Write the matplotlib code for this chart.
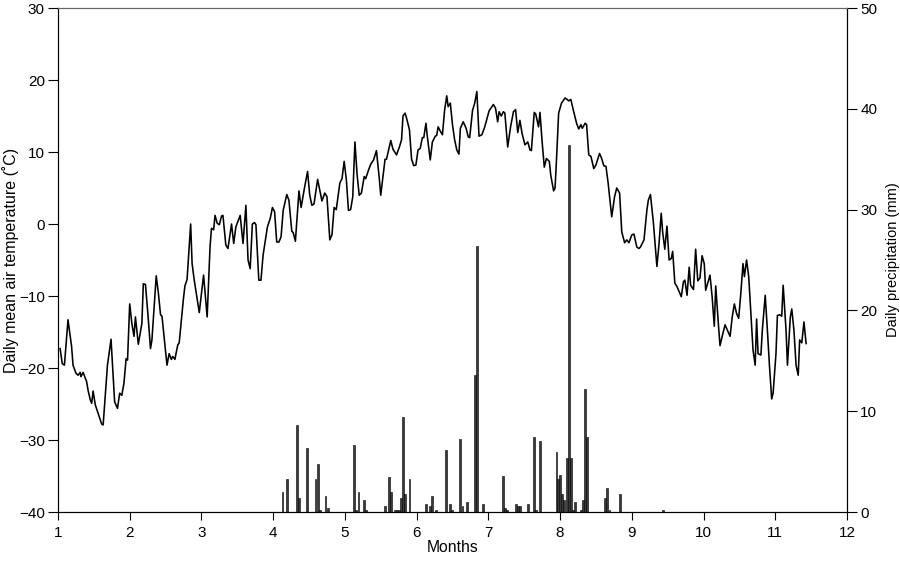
import matplotlib
matplotlib.use('Agg')
import matplotlib.pyplot as plt

plt.rcParams['font.family'] = ['Liberation Sans', 'DejaVu Sans']

# daily mean air temperature, x in fractional months
temp_month = [
    1.03, 1.06, 1.09, 1.14, 1.19, 1.21, 1.25, 1.28, 1.31, 1.32, 1.35, 1.40, 1.42, 1.45, 1.47, 1.49,
    1.52, 1.56, 1.61, 1.63, 1.69, 1.74, 1.79, 1.83, 1.86, 1.89, 1.92, 1.95, 1.97, 2.00, 2.03, 2.06,
    2.08, 2.12, 2.17, 2.19, 2.22, 2.26, 2.29, 2.31, 2.37, 2.40, 2.43, 2.45, 2.52, 2.55, 2.58, 2.60,
    2.63, 2.67, 2.69, 2.75, 2.77, 2.80, 2.85, 2.87, 2.90, 2.97, 3.03, 3.08, 3.12, 3.14, 3.17, 3.19,
    3.22, 3.25, 3.28, 3.30, 3.34, 3.37, 3.42, 3.45, 3.48, 3.54, 3.58, 3.62, 3.65, 3.68, 3.71, 3.74,
    3.76, 3.80, 3.83, 3.86, 3.92, 3.96, 3.99, 4.02, 4.05, 4.08, 4.11, 4.14, 4.19, 4.22, 4.26, 4.28,
    4.31, 4.36, 4.39, 4.44, 4.48, 4.51, 4.54, 4.57, 4.62, 4.68, 4.72, 4.75, 4.79, 4.82, 4.85, 4.88,
    4.93, 4.96, 4.99, 5.02, 5.05, 5.08, 5.11, 5.14, 5.17, 5.20, 5.23, 5.27, 5.29, 5.33, 5.36, 5.40,
    5.44, 5.48, 5.50, 5.56, 5.58, 5.63, 5.64, 5.67, 5.72, 5.76, 5.79, 5.81, 5.84, 5.86, 5.90, 5.93,
    5.96, 5.99, 6.02, 6.05, 6.08, 6.10, 6.13, 6.15, 6.19, 6.22, 6.26, 6.28, 6.30, 6.33, 6.36, 6.39,
    6.42, 6.44, 6.47, 6.50, 6.53, 6.56, 6.59, 6.61, 6.65, 6.69, 6.72, 6.74, 6.78, 6.81, 6.84, 6.87,
    6.91, 6.95, 7.01, 7.07, 7.10, 7.13, 7.15, 7.18, 7.21, 7.23, 7.27, 7.31, 7.35, 7.38, 7.41, 7.44,
    7.47, 7.51, 7.55, 7.58, 7.60, 7.64, 7.66, 7.70, 7.72, 7.75, 7.78, 7.81, 7.85, 7.87, 7.91, 7.93,
    7.95, 7.98, 8.02, 8.07, 8.10, 8.12, 8.15, 8.19, 8.23, 8.26, 8.29, 8.31, 8.35, 8.37, 8.40, 8.43,
    8.47, 8.50, 8.55, 8.58, 8.61, 8.64, 8.67, 8.72, 8.76, 8.79, 8.83, 8.86, 8.90, 8.93, 8.96, 9.00,
    9.03, 9.07, 9.10, 9.12, 9.17, 9.21, 9.23, 9.26, 9.30, 9.35, 9.38, 9.41, 9.43, 9.46, 9.49, 9.52,
    9.55, 9.57, 9.60, 9.63, 9.66, 9.69, 9.72, 9.74, 9.77, 9.80, 9.82, 9.86, 9.89, 9.92, 9.95, 9.98,
    10.01, 10.03, 10.07, 10.09, 10.12, 10.15, 10.17, 10.21, 10.23, 10.26, 10.30, 10.33, 10.37, 10.40, 10.43, 10.46,
    10.49, 10.52, 10.55, 10.57, 10.60, 10.63, 10.66, 10.69, 10.72, 10.74, 10.76, 10.80, 10.82, 10.86, 10.89, 10.92,
    10.95, 10.97, 11.01, 11.03, 11.06, 11.09, 11.11, 11.15, 11.17, 11.21, 11.23, 11.26, 11.29, 11.32, 11.34, 11.37,
    11.40, 11.43,
]
temp_c = [
    -17.3, -19.4, -19.6, -13.3, -17.0, -19.6, -20.7, -21.0, -20.6, -21.2, -20.6, -21.9, -23.1, -24.4, -24.9, -23.2,
    -25.1, -26.3, -27.8, -27.9, -19.6, -16.0, -24.7, -25.6, -23.5, -23.8, -22.1, -18.7, -18.9, -11.1, -13.8, -15.6,
    -12.9, -16.7, -13.8, -8.3, -8.4, -13.3, -17.3, -16.1, -7.2, -9.6, -12.6, -12.8, -19.6, -18.0, -18.8, -18.4,
    -18.8, -16.8, -16.5, -10.3, -8.6, -7.7, 0.0, -5.5, -7.8, -12.3, -7.1, -12.9, -3.2, -0.6, -0.8, 1.2,
    0.1, -0.1, 1.1, 1.2, -2.9, -3.4, 0.0, -2.7, -0.4, 1.2, -2.7, 2.6, -5.0, -6.2, 0.0, 0.2,
    -0.1, -7.8, -7.8, -4.3, -0.4, 0.8, 2.3, 1.7, -2.5, -2.5, -1.8, 1.9, 4.1, 3.3, -1.0, -1.2,
    -2.4, 4.6, 2.3, 5.2, 7.3, 4.0, 2.6, 2.8, 6.2, 3.2, 4.3, 3.8, -2.2, -1.5, 2.3, 2.0,
    5.7, 6.3, 8.7, 6.2, 1.9, 2.0, 3.8, 11.4, 6.9, 4.0, 4.3, 6.6, 6.3, 7.5, 8.3, 8.9,
    10.2, 6.3, 4.0, 9.0, 9.0, 11.2, 11.6, 10.4, 9.6, 10.7, 11.7, 15.0, 15.4, 14.7, 13.1, 9.0,
    8.1, 8.2, 10.3, 10.5, 12.0, 12.0, 14.0, 12.1, 8.9, 11.4, 12.2, 12.3, 13.5, 12.9, 12.4, 15.8,
    17.8, 16.3, 16.8, 13.8, 11.7, 10.3, 9.7, 13.3, 14.2, 13.3, 12.1, 12.0, 15.8, 16.8, 18.4, 12.2,
    12.4, 13.5, 15.7, 16.6, 16.1, 14.2, 15.6, 15.0, 15.6, 15.4, 10.7, 13.5, 15.6, 15.9, 12.7, 14.4,
    12.6, 11.0, 11.4, 10.3, 10.2, 15.5, 15.3, 13.5, 15.5, 11.4, 7.9, 9.1, 8.7, 6.8, 4.6, 5.0,
    8.9, 15.4, 16.8, 17.5, 17.3, 17.1, 17.3, 15.6, 14.0, 13.2, 13.8, 13.3, 14.0, 13.8, 9.6, 9.4,
    7.7, 8.2, 9.8, 9.1, 8.1, 8.0, 5.7, 1.0, 3.8, 5.0, 4.3, -1.1, -2.6, -2.2, -2.6, -1.5,
    -1.4, -3.2, -3.4, -3.2, -2.2, 1.9, 3.3, 4.1, 0.3, -5.9, -2.7, 1.5, -1.1, -3.5, -0.3, -5.0,
    -4.8, -3.8, -8.2, -8.7, -9.4, -10.1, -8.0, -7.8, -9.9, -6.0, -8.5, -9.1, -3.5, -7.9, -7.5, -4.4,
    -5.5, -9.2, -7.8, -7.1, -10.1, -14.2, -8.6, -14.3, -16.9, -15.6, -14.0, -14.7, -15.6, -12.9, -11.1, -12.4,
    -13.1, -9.6, -5.5, -7.3, -5.0, -7.3, -12.4, -17.5, -19.6, -13.2, -18.0, -18.2, -14.7, -9.9, -14.7, -19.8,
    -24.3, -23.5, -18.0, -12.7, -12.6, -12.8, -8.5, -14.7, -19.6, -12.9, -11.8, -14.7, -19.6, -21.0, -16.1, -16.5,
    -13.6, -16.6,
]

# daily precipitation (mm)
rain_month = [
    4.13, 4.19, 4.33, 4.36, 4.47, 4.59, 4.62, 4.65, 4.73, 4.76,
    5.13, 5.16, 5.19, 5.27, 5.30, 5.56, 5.61, 5.64, 5.70, 5.73, 5.75, 5.78, 5.81, 5.84, 5.90,
    6.13, 6.19, 6.21, 6.27, 6.41, 6.47, 6.49, 6.61, 6.64, 6.70, 6.81, 6.84, 6.93,
    7.20, 7.23, 7.26, 7.39, 7.41, 7.44, 7.55, 7.64, 7.66, 7.72, 7.95, 7.97,
    8.00, 8.03, 8.06, 8.10, 8.12, 8.15, 8.18, 8.21, 8.29, 8.32, 8.35, 8.37, 8.63, 8.66, 8.69, 8.83,
    9.43,
]
rain_mm = [
    2.0, 3.3, 8.6, 1.4, 6.4, 3.3, 4.8, 0.2, 1.6, 0.4,
    6.6, 0.2, 2.0, 1.2, 0.2, 0.6, 3.5, 2.0, 0.2, 0.2, 0.2, 1.4, 9.4, 1.8, 3.3,
    0.8, 0.6, 1.6, 0.2, 6.2, 0.8, 0.2, 7.2, 0.6, 1.0, 13.6, 26.4, 0.8,
    3.6, 0.4, 0.2, 0.8, 0.6, 0.6, 0.8, 7.4, 0.2, 7.0, 6.0, 3.3,
    3.7, 1.8, 1.2, 5.4, 36.4, 5.4, 0.2, 1.0, 0.2, 1.2, 12.2, 7.4, 1.4, 2.4, 0.2, 1.8,
    0.2,
]

month_ticks = list(range(1, 13))
temp_ticks = list(range(-40, 31, 10))
rain_ticks = list(range(0, 51, 10))

fig = plt.figure(figsize=(9, 5.61), dpi=100)
ax = fig.add_axes([0.0644, 0.0873, 0.8767, 0.8984])
ax2 = ax.twinx()

ax.plot(temp_month, temp_c, color='black', lw=1.15, zorder=3)
ax2.bar(rain_month, rain_mm, width=0.026, facecolor='#3a3a3a', edgecolor='black', lw=0.4, zorder=2)

ax.set_zorder(ax2.get_zorder() + 1)
ax.patch.set_visible(False)

ax.set_xlim(1, 12)
ax.set_ylim(-40, 30)
ax2.set_ylim(0, 50)
ax.set_xticks(month_ticks)
ax.set_yticks(temp_ticks)
ax2.set_yticks(rain_ticks)
ax.set_yticklabels([str(t).replace('-', '\u2212') for t in temp_ticks])

for a in (ax, ax2):
    a.tick_params(axis='y', direction='out', length=7, width=0.8, labelsize=11, pad=2.5)
    a.tick_params(axis='x', direction='out', length=6, width=0.8, labelsize=11, pad=4)
    for s in a.spines.values():
        s.set_linewidth(0.8)
    a.spines['top'].set_color('#666666')

ax.set_xlabel('Months', fontsize=11.3, labelpad=0)
ax.set_ylabel('Daily mean air temperature (\u02daC)', fontsize=11.5, labelpad=0)
ax2.set_ylabel('Daily precipitation (mm)', fontsize=10.5, labelpad=6)

fig.savefig('out.png', dpi=100)
